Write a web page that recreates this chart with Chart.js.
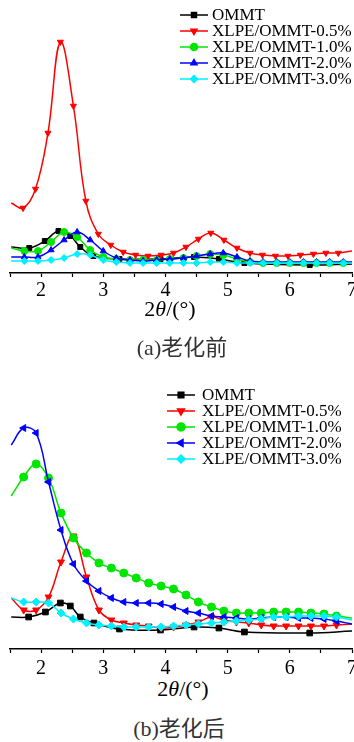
<!DOCTYPE html>
<html>
<head>
<meta charset="utf-8">
<script src="https://cdn.jsdelivr.net/npm/chart.js@4.4.0/dist/chart.umd.min.js"></script>
<style>
  body { margin: 0; background: #fff; overflow: hidden; }
  #wrap { position: relative; width: 354px; height: 742px; }
  canvas { position: absolute; left: 0; }
  .lbl { position: absolute; transform: translateX(-50%); white-space: nowrap;
         font-family: "Liberation Serif", "Noto Sans CJK SC", serif; }
  .xt { font-size: 22px; line-height: 22px; color: #000; }
  .cap { font-size: 22px; line-height: 22px; color: #333; }
</style>
</head>
<body>
<div id="wrap">
  <canvas id="before" width="354" height="300" style="top:0"></canvas>
  <div class="lbl xt" style="left:170px; top:298px">2<i>θ</i>/(°)</div>
  <div class="lbl cap" style="left:182px; top:337px">(a)老化前</div>

  <canvas id="after" width="354" height="300" style="top:376px"></canvas>
  <div class="lbl xt" style="left:183px; top:678px">2<i>θ</i>/(°)</div>
  <div class="lbl cap" style="left:179px; top:718px">(b)老化后</div>
</div>

<script>
// series names
const seriesNames = ['OMMT', 'XLPE/OMMT-0.5%', 'XLPE/OMMT-1.0%', 'XLPE/OMMT-2.0%', 'XLPE/OMMT-3.0%'];

// x tick labels
const xTickLabels = [2, 3, 4, 5, 6, 7];

// (a) before ageing - 2theta values and intensities (arbitrary units)
const blackX = [1.52, 1.81, 2.06, 2.28, 2.47, 2.63, 2.84, 3.26, 3.92, 4.46, 4.86, 5.27, 6.32, 7.0];
const blackA = [26, 25, 32, 42, 37, 26, 17, 14, 14, 16, 14, 10, 8, 9];

const redX = [1.52, 1.71, 1.91, 2.11, 2.31, 2.52, 2.72, 2.92, 3.12, 3.32, 3.52, 3.72, 3.93, 4.13,
              4.33, 4.53, 4.73, 4.94, 5.15, 5.36, 5.56, 5.77, 5.97, 6.17, 6.38, 6.58, 6.78, 7.0];
const redA = [70, 65, 84, 140, 231, 167, 72, 39, 28, 21, 18, 17, 18, 20,
              26, 34, 40, 33, 25, 20, 18, 17, 17, 18, 19, 20, 20, 22];

const restX = [1.52, 1.73, 1.95, 2.16, 2.37, 2.58, 2.79, 3.0, 3.21, 3.43, 3.64, 3.86, 4.07, 4.29,
               4.5, 4.72, 4.93, 5.15, 5.36, 5.57, 5.79, 6.0, 6.22, 6.43, 6.64, 6.86, 7.0];
const greenA = [25, 22, 22, 31, 41, 36, 23, 16, 14, 13, 13, 13, 14, 15,
                17, 19, 18, 14, 11, 10, 10, 10, 10, 10, 10, 10, 10];
const blueA = [16, 16, 16, 23, 33, 41, 33, 22, 15, 13, 12, 13, 14, 15,
               17, 19, 20, 16, 12, 11, 11, 11, 11, 11, 11, 11, 11];
const cyanA = [12, 12, 12, 13, 15, 19, 18, 13, 11, 10, 10, 10, 10, 10,
               10, 11, 11, 10, 10, 10, 10, 10, 10, 10, 10, 10, 10];

// (b) after ageing
const blackBX = [1.52, 1.80, 2.07, 2.31, 2.47, 2.63, 2.85, 3.26, 3.92, 4.46, 4.86, 5.27, 6.32, 7.0];
const blackB = [32, 32, 37, 46, 43, 32, 26, 20, 19, 22, 21, 17, 16, 18];

const afterX = [1.52, 1.72, 1.92, 2.12, 2.32, 2.52, 2.73, 2.93, 3.13, 3.33, 3.53, 3.73, 3.93, 4.13,
                4.33, 4.53, 4.74, 4.94, 5.14, 5.34, 5.54, 5.74, 5.94, 6.14, 6.34, 6.55, 6.75, 7.0];
const redB = [51, 39, 39, 52, 87, 113, 72, 39, 29, 26, 24, 23, 21, 22,
              24, 27, 32, 29, 27, 26, 24, 23, 23, 23, 23, 23, 24, 25];
const greenB = [153, 172, 185, 171, 136, 111, 96, 86, 81, 76, 71, 66, 63, 60,
                54, 47, 42, 38, 36, 36, 36, 37, 37, 37, 36, 35, 33, 31];
const blueB = [204, 221, 216, 167, 119, 85, 68, 58, 51, 47, 46, 46, 45, 42,
               38, 36, 33, 32, 31, 30, 31, 32, 32, 31, 31, 30, 28, 25];
const cyanB = [51, 47, 47, 46, 36, 30, 26, 24, 23, 22, 22, 22, 22, 23,
               24, 25, 26, 27, 28, 29, 30, 32, 32, 33, 33, 33, 32, 29];

const colors = ['#000000', '#ff0000', '#00e600', '#0000ff', '#00f0ff'];

function toPoints(xs, ys) {
  return xs.map((x, i) => ({ x: x, y: ys[i] }));
}

// line + marker legend like the Origin one
const lineLegend = {
  id: 'lineLegend',
  afterDraw(chart, args, opts) {
    const ctx = chart.ctx;
    chart.data.datasets.forEach((ds, i) => {
      const y = opts.y + i * opts.gap;
      ctx.save();
      ctx.strokeStyle = ds.borderColor;
      ctx.lineWidth = 1.5;
      ctx.beginPath();
      ctx.moveTo(opts.x0, y);
      ctx.lineTo(opts.x1, y);
      ctx.stroke();
      ctx.fillStyle = ds.backgroundColor;
      Chart.helpers.drawPoint(ctx, {
        pointStyle: ds.pointStyle, rotation: ds.pointRotation || 0,
        radius: opts.r, borderWidth: 1
      }, (opts.x0 + opts.x1) / 2, y);
      ctx.fillStyle = '#000';
      ctx.font = '17px "Liberation Serif"';
      ctx.textBaseline = 'middle';
      ctx.fillText(ds.label, opts.tx, y + 1);
      ctx.restore();
    });
  }
};

function makeDataset(i, pts, style, rot, r) {
  return {
    label: seriesNames[i],
    data: pts,
    borderColor: colors[i],
    backgroundColor: colors[i],
    borderWidth: 1.5,
    pointStyle: style,
    pointRotation: rot,
    pointBorderWidth: 1,
    pointRadius: (c) => (c.dataIndex === 0 || c.dataIndex === pts.length - 1) ? 0 : r,
    tension: 0.4,
    order: 4 - i
  };
}

function makeChart(id, datasets, legendPos, labelPad) {
  return new Chart(document.getElementById(id), {
    type: 'line',
    data: { datasets: datasets },
    plugins: [lineLegend],
    options: {
      responsive: false,
      animation: false,
      devicePixelRatio: 1,
      events: [],
      layout: { padding: { left: 10, right: 2, top: 13, bottom: 0 } },
      plugins: {
        legend: { display: false },
        tooltip: { enabled: false },
        lineLegend: legendPos
      },
      scales: {
        x: {
          type: 'linear',
          min: 1.5,
          max: 7,
          afterBuildTicks: (s) => {
            const t = [];
            for (let v = 1.5; v <= 7.001; v += 0.5) t.push({ value: v });
            s.ticks = t;
          },
          afterFit: (s) => { s.height = 27; s.paddingLeft = 0; s.paddingRight = 0; },
          grid: { display: true, drawOnChartArea: false, drawTicks: true,
                  tickLength: 4, tickColor: '#000', tickWidth: 1.2 },
          border: { display: true, color: '#000', width: 1.5 },
          ticks: {
            autoSkip: false,
            maxRotation: 0,
            padding: labelPad,
            color: '#000',
            font: { family: 'Liberation Serif', size: 20 },
            callback: (v) => xTickLabels.includes(Math.round(v * 100) / 100) ? String(v) : ''
          }
        },
        y: { display: false, min: 0, max: 260 }
      }
    }
  });
}

makeChart('before', [
  makeDataset(0, toPoints(blackX, blackA), 'rect', 0, 3.5),
  makeDataset(1, toPoints(redX, redA), 'triangle', 180, 3.5),
  makeDataset(2, toPoints(restX, greenA), 'circle', 0, 3.5),
  makeDataset(3, toPoints(restX, blueA), 'triangle', 0, 3.5),
  makeDataset(4, toPoints(restX, cyanA), 'rectRot', 0, 3.5)
], { x0: 180, x1: 208, tx: 212, y: 15, gap: 16, r: 3.5 }, 2);

makeChart('after', [
  makeDataset(0, toPoints(blackBX, blackB), 'rect', 0, 4),
  makeDataset(1, toPoints(afterX, redB), 'triangle', 180, 4),
  makeDataset(2, toPoints(afterX, greenB), 'circle', 0, 4),
  makeDataset(3, toPoints(afterX, blueB), 'triangle', -90, 4),
  makeDataset(4, toPoints(afterX, cyanB), 'rectRot', 0, 4)
], { x0: 167, x1: 195, tx: 202, y: 19, gap: 16, r: 4 }, 4);
</script>
</body>
</html>
